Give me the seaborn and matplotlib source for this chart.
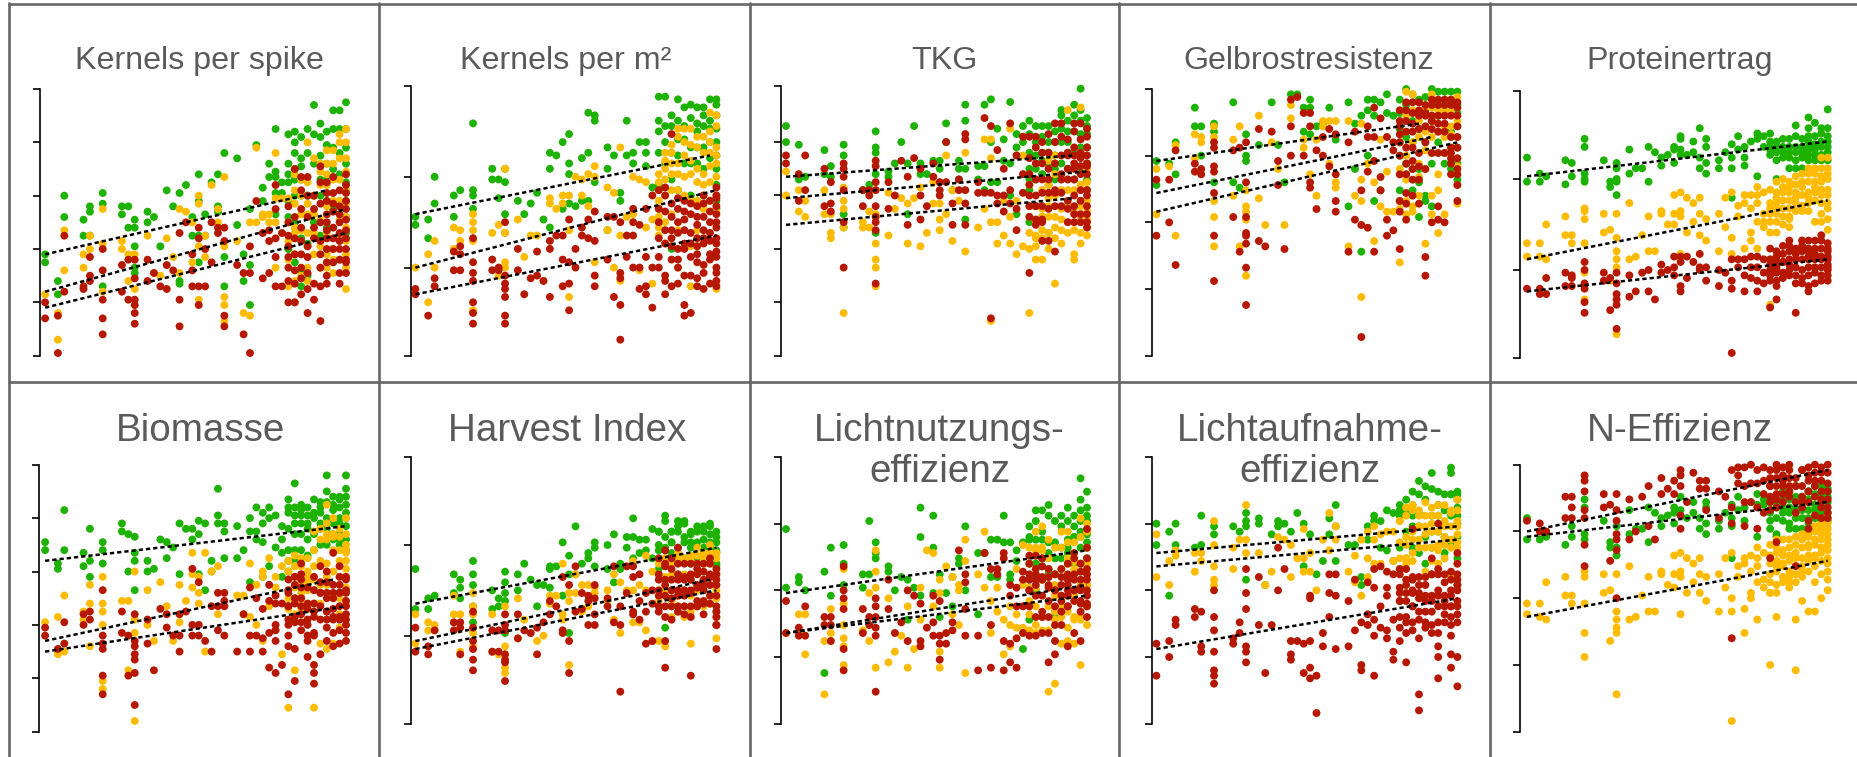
import pandas as pd
import matplotlib
matplotlib.use("Agg")
import matplotlib.pyplot as plt
from matplotlib.lines import Line2D
import seaborn as sns

# years that have varieties, one sublist per year in every series below
YEARS = [1968, 1970, 1971, 1974, 1975, 1977, 1980, 1981, 1982, 1984,
         1985, 1986, 1987, 1988, 1989, 1990, 1991, 1992, 1993, 1994,
         1995, 1996, 1998, 1999, 2000, 2001, 2002, 2003, 2004, 2005,
         2006, 2007, 2008, 2009, 2010, 2011, 2012, 2013, 2014, 2015]
# the *_LATE lists only hold the crowded last ten years
LATE_YEARS = [2006, 2007, 2008, 2009, 2010, 2011, 2012, 2013, 2014, 2015]

GROUP_COLORS = {"green": "#1DB100", "yellow": "#FFBB00", "red": "#B51700"}

# Kernels per spike
KPS_GREEN = [[38,35],[28,23],[60,52],[51,45],[56,54,45],[61,57,26],[56,53],[56,48],[51,48,41,33,31],[54,50],
 [52],[41],[62],[56],[61,28,27],[64],[52,45],[68,58,45,35],[53,45],[65],
 [68,56,54],[76,37,26],[74,49],[38,28],[55,34,19],[79],[63,58],[72,67],[85,69,67,61,53],[65,61],
 [83,68,65],[84,80,70,60],[82,74,71],[85],[94,83],[87,82],[84,79,72],[92,85],[92,85],[95,85,72,65,58,52]]
KPS_YELLOW = [[23],[16,6],[47,32],[38,33],[45,40],[55,42,24],[43,40],[38,28],[38,25],[45],
 [31],[30],[44],[37],[55,31],[54],[50,35],[60,57,41,21],[45,37],[64],
 [55,50],[67,41,22,19,13],[43],[16],[50,15],[78,50],[52,53],[53,50],[76,59,50,33],[59,46],
 [59,26],[68,57,48,20],[60,53],[80,57,53,46],[74,53],[69,51,33],[77,72,68,46],[77,66,36],[83,80,66,51],[85,80,69,52,43,25]]
KPS_RED = [[20,14],[15,1],[45,24],[26,25],[37,30,28],[40,32,21,14,8],[34,24],[36,21],[36,29,21,19,16,12],[36,28],
 [31],[26],[34,25],[32],[46,21,11],[50],[38,32,26],[48,44,26,19],[26,40],[50,35],
 [48,46],[48,43,15,11],[34],[31,8],[41,31,1],[58],[46,29],[47,43,31],[64,55,44,37,26],[46,26],
 [56,50,37,33,20],[70,38,32,20],[67,48,43,33,23],[67,41,25,16],[60,27,21],[71,57,43,26,13],[65,61,53,47,40,35,30],[61,54,48,40],[62,53,46,40,31],[68,61,55,47,40,36,31]]
KPS_GREEN_LATE = [[72,58,52,40],[76,66,50,35],[66,60,44,32,26],[76,60,42,30],[72,60,50],[75,66,60,45],[66,58,48],[78,70,55],[76,68,58],[78,62,46]]
KPS_YELLOW_LATE = [[50,43,36],[62,46,38,28],[66,47,30],[65,41,33,28],[60,46,38],[72,64,41],[64,56,38,33],[72,58,40,31],[74,58,45,36],[74,62,57,48,38,33]]
KPS_RED_LATE = [[45,41,28],[52,44,27],[62,55,38,29],[60,52,37,31],[55,48,44],[65,50,38,33],[58,50,44,27],[67,57,44,35],[56,50,43,36,27],[64,58,51,44,35]]
KPS_TRENDS = [(1968, 38, 2012, 62), (1968, 24, 2015, 55), (1968, 18, 2015, 46)]

# Kernels per m2
KPM_GREEN = [[52,49],[51,44],[67,57],[60,52],[62],[87,62,60,55],[70,66],[66,59],[70,65,53,46],[58],
 [53],[57],[61],[51],[76,70,48],[75],[80,55],[83,72,68,57],[56],[74,58],
 [91,76,58],[90,88,65],[78,70,47],[75],[61,58],[88,75],[76,72],[80],[80,76,71],[63],
 [97,88],[97,86],[90,40],[96,81],[93,81],[94,78],[93,87,78],[93,90,78],[96,88,80],[96,94,85,70,55]]
KPM_YELLOW = [[33],[38,20],[43,33],[48,40],[47,43],[53,50,47,43,17],[46],[49,30],[70,46,35,33],[51],
 [37],[45],[45],[28],[59,57],[55],[60,57],[60,47,22],[67],[66,60],
 [68,56],[71,67,35],[63,47],[61,33],[78,45,28],[52],[53,67],[32,66],[65,48],[27,51],
 [68,65,52,48,45],[73,70,50],[79,68,53],[85,68,33],[85,67],[85,68,41,26],[82,65,41],[82,64,55],[91,80,65],[90,75,25,67]]
KPM_RED = [[25,23],[15],[29,26],[39,32],[41,38,32],[44,35,31,28,20,16,12],[36,32],[33,32],[50,30,27,25,22,15,12],[40,32],
 [23],[29],[39,30],[28],[43,40,22],[45],[45,36,26],[51,35,27,17],[40,33],[48,45],
 [51,44],[54,43,30,26],[52,36],[52,22],[50,31,29,19,6],[45,37],[55,50,45,33],[49,33,25],[55,37,26,23],[60,33,18],
 [50,37,33],[63,47,28,23],[83,57,47,41,26],[59,50,36,33],[58,51,40,30,19,15],[57,46,30,16],[56,49,41,35,29],[57,47,42,34,31],[54,46,38,27],[63,59,56,48,42,37,33,28,26]]
KPM_GREEN_LATE = [[84,76,64],[80,72],[86,76,66],[88,75,62],[86,72],[89,72,60],[84,72],[86,70],[85,74],[90,80,75,64,58]]
KPM_YELLOW_LATE = [[62,58,55,50],[76,66,60,42],[76,72,62],[82,72,62,47],[80,75,60],[79,73,58],[78,70,58,47],[76,68,60],[84,76,71,58],[86,78,72,60,54]]
KPM_RED_LATE = [[62,55,44],[60,54,42,30],[52,44,36],[55,46,40,27],[54,47,42],[53,42,37],[52,44,38,26],[60,52,44,25],[58,50,43,36],[60,53,50,44,39,31]]
KPM_TRENDS = [(1968, 53, 2014, 75), (1968, 33, 2015, 62), (1968, 23, 2015, 45)]

# TKG
TKG_GREEN = [[86,80],[79,66],[67],[77,68],[71,67],[79,75,53,48],[62],[64,62],[84,78,76,68,46],[69,67],
 [72],[80],[72,53],[86],[72,68],[68],[73],[73,70],[87,80],[62],
 [73,70,66],[94,88,70,51],[71,66],[94,71,62],[96,80,65],[85,65],[81,73],[95,72,60],[83,78,53],[86,80],
 [88,83,76,50],[86,75],[86,73,52],[86,80,46],[80,75],[92,90,80],[88,80],[90,84],[100,88,83],[89,83,78,62]]
TKG_YELLOW = [[69,60],[62,54],[58,52],[62,53],[53,46,44],[63,58,55,48,16],[50,48],[48,54],[62,53,42,36,33,26],[61,45],
 [55],[59],[57,42],[59],[63,41],[46],[65,57],[57,51,47],[75,53],[43,62],
 [58],[76,39],[48],[81,55],[81,74,50,13],[50,42],[58,45],[85,52,42],[75,38,58],[75,41],
 [56,16],[45,41],[55,47],[73,59,52,40],[75,48,27],[51],[92,62,50],[47,38,36],[93,58,52,42],[65,58,51,48]]
TKG_RED = [[75,72],[68,58],[75,62],[70,56],[65,57,54],[72,70,67,62,50,33],[62,56],[62,60],[73,71,65,62,56,52,50,47,27],[65,55],
 [60],[73],[67,49],[74],[70,60,51],[56],[72,67],[65,62,60],[80,65],[57,49],
 [66,62],[83,81,62,57,49],[65,61],[89,61],[86,61,14],[77,60,57],[70,60,54],[87,62,57],[75,55,47],[82,68,61],
 [82,68,60,31],[78,72,60,56,51,49],[80,72,61,51,43],[83,70,61,43],[87,80,61,39],[87,82,68,61],[75,70,55],[87,78,75,70,60,53],[87,76,71,62,53],[85,78,75,71,60,56,53]]
TKG_GREEN_LATE = [[70,66,62],[80,70,66],[82,76,68],[76,72,64],[84,70,66],[85,72,66],[84,76,70],[94,76,66],[92,78,70],[86,72,66]]
TKG_YELLOW_LATE = [[64,52,46,40],[56,50,44,36],[62,52,44,36],[64,56,46],[68,60,52,44],[62,55,47,42],[66,56,46],[70,62,54],[76,64,56,46],[70,62,54,45]]
TKG_RED_LATE = [[74,64,56,52],[82,66,56],[76,66,56,50],[76,66,55],[72,62,56],[75,66,56],[81,76,66,58,50],[84,72,66,56,50],[81,74,68,58,50],[82,72,68,62,50,48]]
TKG_TRENDS = [(1968, 67, 2013, 75), (1968, 59, 2015, 69), (1968, 49, 2013, 59)]

# Gelbrostresistenz
GELB_GREEN = [[73,64],[72],[80,68],[93,86],[86,75],[87,84,65],[95,65],[63],[83,75,73],[79],
 [],[95],[79],[65],[98],[98],[93,84],[96,93,83],[86],[87],
 [93],[81],[95,56],[87,70],[90,39],[96,92,75],[96,90,58],[95,62],[98,91],[90],
 [96,91,80,62],[100,72],[98],[96,65],[97,58],[100,56],[99],[99,76],[99],[99,91,72]]
GELB_YELLOW = [[70,53],[71],[79,45],[83,74],[82,80],[86,82,52,41,58],[81,60],[86,41],[62,56,54,51,30],[90,59],
 [49],[80],[70],[49],[94,89],[],[81,78],[68],[81,60],[88,86],
 [88,72],[88,65,63],[88,41],[60],[87,66,58,22],[72],[65,43],[81,56],[69,54],[54],
 [68,58,35],[99,75,53],[98,54],[67,60],[77,42],[98,82,53],[68,46],[96,82,53],[96,83],[97,71,57]]
GELB_RED = [[66,45],[66,50],[77,34],[72,69],[70,68],[80,78,71,69,61,45,28],[77,52],[78,39],[80,65,52,46,45,42,33,19],[85,43],
 [41],[84],[73,64],[40],[96,86,75],[97],[91,75],[91,86,65,63],[77,55],[82,75],
 [85,71],[83,68,58,54],[80,39],[84,51],[62,49,7],[86,82,69,48],[93,82,39,73],[89,67,62],[82,51,45],[80,77,47],
 [92,88,83,54,40],[95,88,72,61,51],[95,87,73,66],[95,90,71,57],[91,90,37,30],[96,88,50],[96,87,56,51],[96,87,50],[96,82,76,72],[93,82,78,70,64,58]]
GELB_GREEN_LATE = [[85,75,58],[94,82,68],[88,80,62],[85,70,52],[92,80,60],[88,72],[90,80],[92,84,72],[92,84,70],[94,86,78,66]]
GELB_YELLOW_LATE = [[92,80,70,55],[90,84,66,58],[92,80,70,56],[88,82,72],[93,84,70],[93,88,76,60],[92,84,62],[92,86,76],[92,86,78],[93,88,82,74,64]]
GELB_RED_LATE = [[86,80,75,68,58],[92,84,78,68,57],[91,84,78,70,60],[92,85,76,66],[94,86,80,70],[94,90,85,76],[94,90,84,76],[94,90,84,76],[94,90,78,74,68],[95,90,86,74,68]]
GELB_TRENDS = [(1968, 73, 2009, 87), (1968, 61, 2011, 82), (1968, 54, 2015, 80)]

# Proteinertrag
PROT_GREEN = [[75,66],[69,66],[68],[74,65],[73,68],[82,79,69,67,66],[74],[66,64],[73,71,67,66,61],[78,69],
 [71],[71],[79,66],[77],[75,72],[76],[79,78,73],[83,82,78,76],[76],[81,77],
 [86,75,71],[82,79,73,69],[74,71],[77],[80,75,71,60],[83,78],[79,75,72],[81],[84,82,68],[83,79],
 [84,81,76],[81,67],[82,77],[82,77,71],[87,79,71],[79,77,71],[90,86,83,79,76],[88,83,78],[84,81,76],[93,86,83,79,74]]
PROT_YELLOW = [[43,38],[43,38],[50,37],[53,46],[46,43],[56,55,52,43,32,22],[54,47],[48,29],[54,45,40,37,34,9],[58,37],
 [38],[46],[53,40],[40],[55,54],[50],[61,54,50],[62,55,53,39],[60,47],[58,51],
 [60,54,46],[52,44],[54,40],[60,49],[62,45,39],[57,53],[61,58,41],[61,56,47,44],[64,61,58,51,41],[62,54,51,49],
 [58,54,51,47,20],[66,62,58,54,47],[64,59,53],[64,59,53,49],[65,60,55],[66,61,55,44],[69,66,62,58],[69,66,62,51],[71,68,63,58,54],[75,71,67,63,58,56,52,48]]
PROT_RED = [[26],[26,24],[30,24],[32,27],[31,30,27],[36,33,28,26,21,17],[32,29],[30,18],[32,28,24,22,20,11],[31,23],
 [25],[32],[33,25],[22],[35,32],[33],[38,34,31],[38,36,27,25],[38,30],[36],
 [39,34,33],[34,29],[33,27],[32],[37,29,26,2],[37,34],[37,31,25],[38,34,30],[38,34,29,25],[37,32,28],
 [35,31,19],[40,36,32,29,22],[39,36,32],[42,37,33],[41,37,28,17],[42,37,30,28],[41,37,34,27,25],[41,37,34,28],[44,41,37,34,31],[43,40,37,34,31,29]]
PROT_GREEN_LATE = [[79,78],[79,77,74],[79,75],[79,75],[83,77,74],[82,75],[81,78,74],[80,76,74],[86,79,74],[81,77]]
PROT_YELLOW_LATE = [[63,56],[60,56,51],[67,62,56,50],[66,62,56,52],[68,62,58],[69,64,57],[71,60,55],[71,64,59],[75,66,61,51],[69,61]]
PROT_RED_LATE = [[41,37,33,29],[38,34,33,27],[42,36,30],[44,40,35,31],[39,34,31],[44,40,33],[44,40,38,31],[44,39,32],[46,38,29],[41,38,35,33]]
PROT_TRENDS = [(1968, 68, 2015, 81), (1968, 37, 2015, 59), (1968, 25, 2015, 37)]

# Biomasse
BIOM_GREEN = [[71,68],[63,61],[83,68],[67,62],[76,64,58],[71,68,63],[78,75],[74,60],[73,67,64,53],[64,60],
 [61],[72],[71,65],[69],[78,59],[76],[76,72],[79,74,59],[78,53],[64,60],
 [91,81,78],[78,75,65],[77,65],[68],[80,75,56],[84,75,72],[82,78,71,58],[84,80,62],[81,69],[77,72,67,58],
 [87,82,68],[93,81,78,68],[85,81,78],[81,78,72],[87,80],[86,84,78],[96,90,80],[85,83,72],[87,84,78,72],[96,91,88,85,77,72]]
BIOM_YELLOW = [[41],[43,30,29],[51,30],[45,42],[55,48,32],[58,48,45,40,19,16],[49],[49,23],[60,42,37,4],[53,40],
 [34],[56],[47],[34],[55,41],[49],[67,59,54],[58,52,48],[67,30],[60],
 [62,44],[47],[51],[51,44],[63,43],[55,40],[60,58,34],[65,47],[58,54,38],[62,29],
 [64,9,53],[66,62,50,23],[65,52,48],[65,58,53],[75,57,9],[72,33],[85,74,58,31],[80,73,33],[73,68,62,39],[80,68,67,61,58]]
BIOM_RED = [[39,36],[31],[41,33],[44,40],[45,42],[53,36,33,31,21,14],[45,37],[36,21],[44,34,32,29,27,22,10],[42,33],
 [23],[46],[44,39],[36],[44,36,30],[45],[61,40,36],[56,40,36],[34],[47,30],
 [52,47,38],[52,49,47,36],[30],[44],[54,36,30],[50,36],[46,35,30],[55,49,37,24],[51,48,40,38,34,22],[48,25],
 [57,53,47,42,32,14],[55,48,41,31,19],[63,59,57,47,41],[48,40,34,28],[58,45,37,25,22,18],[62,52,29],[60,52,45,39,34],[67,52,43,32],[62,58,52,43,33],[57,53,49,42,37,34]]
BIOM_GREEN_LATE = [[84,76,64,60],[84,74,64],[83,74,68],[84,76,66],[82,74,68],[82,76,70],[86,76,70],[88,78,74],[88,80,74,70],[82,80,68]]
BIOM_YELLOW_LATE = [[60,50,46],[62,58,54,44],[62,56,50,46],[60,56,46],[68,62,53,48],[76,64,55,48],[78,72,63,55],[74,68,60,50],[76,64,58,50,44],[74,70,64,54,48]]
BIOM_RED_LATE = [[52,47,40,36],[58,50,43],[54,50,44,38],[54,46,42,36],[53,48,43,36],[56,52,47,42],[56,50,45,42],[55,50,46,42,37],[55,52,47,42,38],[58,52,47,44,40]]
BIOM_TRENDS = [(1968, 64, 2015, 77), (1968, 34, 2013, 57), (1968, 30, 2015, 47)]

# Harvest Index
HI_GREEN = [[58,43],[47,43],[48],[56,49],[54,51,47],[61,56,52,44,38],[50,43],[47,44],[57,53,49,46,34],[56,50],
 [60],[54],[52,44],[52],[59,58,51],[59],[68,48],[63,56,34],[74,56],[60],
 [64,62],[68,66,59],[67,58],[71,53],[60,58],[70,66],[77,70,62],[69,64],[69,65],[73,62],
 [72,67,65],[78,66,36],[72,68,64],[76,72],[75,68],[71,68],[72,68],[74,69],[75,71,66],[72,68,65,59,42]]
HI_YELLOW = [[41,30],[38,35],[37,35],[48,41,38],[41,27],[49,44,41,34,29],[41,27],[26],[44,29,26,21,19],[47,32],
 [39],[34],[31],[33],[48,45],[48],[60,41,39],[49,46,22],[56,49],[52,42],
 [52,44],[51,49],[50,46],[56,39],[53,34],[50],[61,50,38],[52,38],[63,50,35],[57,31],
 [56,31],[60,29],[56,44],[62,44],[61,40],[61,30],[63,44],[62,44],[67,55,45],[64,52,47,32]]
HI_RED = [[36,27],[29,26],[35],[38,35],[38,36,26],[42,36,31,28,24,20],[35,27],[35,27],[41,37,35,26,24,23,16],[41,32],
 [35],[34],[36,26],[38],[46,41],[44],[55,35,34],[52,31,19],[59,42],[49,43],
 [48,46,37],[52,47,41,37],[47,44],[59,38],[44,37,12],[59,49],[59,55,42,41],[56,46,39],[49,42,30],[50,45,31],
 [54,50,44],[65,59,52,40,31,21],[54,47,39],[66,56,50,44],[55,50,41],[56,49,40,18],[56,51,44],[57,52,45,41],[60,55,45],[56,54,42,37,37,28]]
HI_GREEN_LATE = [[72,62,58],[76,70,62],[72,68,60],[74,66],[76,70,62],[72,66,60],[74,66,62],[72,66,62],[74,68,62],[70,64,60]]
HI_YELLOW_LATE = [[60,50,46],[62,55,50],[60,50,46,40],[64,56,48,42],[62,56,50,44],[63,54,48,42],[66,60,50,44],[64,60,52,46],[64,60,52,48],[62,56,50,40]]
HI_RED_LATE = [[62,56,48,42],[60,54,48,44],[62,58,50,44],[60,54,48,42],[60,54,48,44],[60,54,50,44],[60,58,52,46],[60,54,50,46],[62,56,52,48],[58,52,48,44,40]]
HI_TRENDS = [(1968, 45, 2015, 66), (1968, 31, 2014, 54), (1968, 28, 2015, 50)]

# Lichtnutzungseffizienz
LUE_GREEN = [[73,51],[55,53],[50],[57,19],[66,48],[67,60,52],[56,51],[76,56],[68,64,62],[59,57],
 [50],[55],[54,39],[51],[81,70,48],[],[78,66,49],[56,40],[49],[55,44],
 [62,60],[74,50],[64,41],[64],[69,55],[69,55],[78,68],[68,56,54],[65,61],[68,28],
 [74,69,39],[80,69,60],[80,69,59],[82,68,56],[68,42,40],[74],[81,69,66],[74,70],[92,84,76,70],[87,81,78,71,68,66]]
LUE_YELLOW = [[34],[41,34],[41,26],[31,11],[43,34,31],[58,45,37,32,29,22],[35],[49,31],[65,57,51,21],[47,23],
 [27],[33],[44,21],[28],[51,39],[65],[64,44],[54,49,27,21],[59],[55,41],
 [52,50,37],[69,61,19],[56],[72,51],[46,34],[51,42],[39,26],[44,37,29],[58,41,36],[67,52,36],
 [66,51,35],[72,65,51,34],[74,65,35],[69,51,35,12],[52,39,15],[72,44,30],[72,60,31],[61,40,30],[77,60,39,22],[75,61,52,37]]
LUE_RED = [[46,34],[36,33],[44,33],[40,37],[40,37,31],[59,50,47,43,28,20],[43,34],[40,37],[47,44,40,36,33,12],[54,43],
 [34],[38],[50,31],[48],[45,31,29],[36],[48,38,33],[46,33,30,24],[34,30],[38,35],
 [65],[56,53,43,33],[33,20],[64],[58,37,21],[58,56],[64,62,31,20],[52,48,30,23],[51,44,32,21],[57,54,44,34],
 [63,54,50,33],[63,56,52,33],[59,55,42,34],[55,51,34,23],[50,37,31,26],[55,48,37],[56,52,50,44,29],[64,54,50,34],[57,51,45,31],[73,62,56,50,45,40]]
LUE_GREEN_LATE = [[70,60,54],[76,60,50],[72,62,54],[78,64,58],[76,62,56],[78,66,62],[76,64],[78,70,60],[80,72,66,60],[76,72,66,62]]
LUE_YELLOW_LATE = [[60,46,41],[66,56,44,37],[66,54,40],[62,55,44],[66,48,42],[66,58,48,40],[68,62,54,42,36],[68,58,48,39],[70,60,52,40],[72,66,60,52,44]]
LUE_RED_LATE = [[60,56,50,44],[58,54,48,40],[62,54,48,40],[58,52,46,40],[56,50,44],[58,52,46,42],[60,54,48,44],[62,56,50,46],[60,54,50,46,42],[66,58,54,48,44]]
LUE_TRENDS = [(1968, 49, 2015, 65), (1968, 34, 2015, 52), (1968, 34, 2015, 48)]

# Lichtaufnahmeeffizienz
LAE_GREEN = [[75,67],[72,48],[75,67],[66],[78,67],[74,71],[74],[72],[79,76,74,54],[77,75],
 [52],[71],[76,74],[75],[72],[79],[75,59],[71],[56],[61],
 [77,71],[82,74,61],[67],[67],[55,52],[69,74],[78,76],[76,66],[80,65],[79,61],
 [82,78],[79],[87,78,66],[91,79],[89,60],[94,78],[87,78],[80,75],[96,94,86],[87,86,81,75,52]]
LAE_YELLOW = [[71,55],[52,61],[65,63],[64,57],[64,61],[76,67,59,54,52],[66,58],[69],[82,69,64],[64],
 [52],[57],[70],[69],[55,67],[62],[73,62,57],[64,57],[50],[69],
 [79,65],[74,69],[57],[63,53],[69,48],[72,62,55],[74,69,60],[71,60],[72],[72,61],
 [76,62],[81,67,60],[82,69,61],[80,69],[83,71,57],[81,75,61],[82,67,65],[74,67],[79,69,55],[84,76,71,66]]
LAE_RED = [[30,18],[31,25],[39,37],[43,40],[42,29,27],[50,40,35,27,20,18,15],[32,30],[38,34],[58,49,43,29,27,23],[55,37],
 [19],[37],[66,50],[58],[31,26,24],[31],[30,19],[48,47,31,21,17],[18,4],[34,29],
 [56,49,40],[56,48,28],[46,29],[54,35],[38,22,20],[53,41,37],[58,51,39,33,18],[59,44,36],[57,51,48,35,32],[56,39,27,24],
 [56,49,46,36,31],[54,49,40,23],[73,55,49,44,35],[55,49,39,11,5],[55,48,38],[62,56,46,37],[75,56,50,34,29,25,17],[56,46,41],[57,50,44,37,33,26,21],[64,56,54,50,41,25,14]]
LAE_GREEN_LATE = [[80,66,58],[84,72,62],[82,74],[86,74,64],[84,70],[88,72,66],[82,72],[86,70,64],[86,78,68],[84,78,70,62]]
LAE_YELLOW_LATE = [[76,68,58],[78,70,62],[80,72,64],[78,74,66],[78,74,66],[78,72,66],[78,72,60],[82,76,70,62],[80,74,66],[80,74,68,60]]
LAE_RED_LATE = [[58,51,46,40],[58,52,46,38,34],[54,50,44,38],[52,47,42,32],[52,46,42,36],[56,48,42,34],[58,48,44,38],[53,48,44,38],[54,48,44,40],[60,52,46,44,38]]
LAE_TRENDS = [(1968, 64, 2015, 74), (1968, 59, 2015, 69), (1968, 28, 2015, 47)]

# N-Effizienz
NEFF_GREEN = [[80,72],[72],[73],[70],[77,73],[87,84,74,72],[79],[71,69],[77,69,66],[83,74],
 [76],[76],[84,71],[82],[80,77],[81],[84,82,78],[88,83],[80],[86,82],
 [80,76],[86,84,78,74],[79,76],[82],[85,80,77,65],[88,83],[84,79],[86],[89,85,73],[87,85],
 [86,82,79],[86,84,73],[87,82],[87,82,76],[92,83,76],[84,76],[90,87,83,80],[89,83],[89,84,79],[91,88,79]]
NEFF_YELLOW = [[48,44],[48,43],[56,42],[58,51],[51,48],[60,58,48,37,28],[59,52],[53,34],[59,45,42,39,37,14],[62,42],
 [43],[51],[58,45],[45],[60,59],[55],[66,59,54],[67,60,58,44],[65,52],[63,56],
 [65,59,52],[58,49],[59,45],[65,54],[67,50,45,4],[62,58],[65,63,46,37],[66,60,52,50],[69,65,62,56,42],[67,57,54],
 [63,59,52,25],[72,67,62,52,43],[68,63,58],[69,64,58,54],[70,65,59,42,23],[72,65,60,49],[73,69,64,45],[75,70,65,56,45],[76,72,67,59,50],[80,76,72,68,63,60,57,53]]
NEFF_RED = [[79],[78,75],[75],[88,80],[88,84,80],[96,94,90,83,80,70,62],[89,84],[85,64],[89,83,79,74,72,68,50],[87,72],
 [75],[88],[92,77],[72],[95,89],[91],[94,89],[98,96,92,81,76],[86],[97],
 [94,91],[94,91,83],[90,80],[88],[98,84,78,35],[99,96,93],[99,92,86,77],[100,93,86],[98,93,84,76],[99,94,89,82],
 [95,92,86,65],[100,95,89,84,71],[99,94,89],[100,95,90],[95,82,62],[98,86,84],[99,94,79,76],[100,94,81],[99,94,87,84],[100,93,87,84]]
NEFF_GREEN_LATE = [[88,83,76],[84,80,74],[90,84,79],[90,84,78],[88,80],[88,83,80],[90,86,78,74],[92,85,80,76],[92,86,82,76],[90,86,82]]
NEFF_YELLOW_LATE = [[70,66,56,52],[69,64,60,55],[72,66,62,56],[72,66,60,56],[73,67,62,56],[74,69,62,58],[75,70,66,60],[77,72,66,62],[78,74,69,64],[78,74,70,65]]
NEFF_RED_LATE = [[98,92,88,83],[98,92,87],[96,92,86],[98,92,88],[92,86],[98,92,88],[96,90,86],[97,92,88],[97,90,86,80],[97,90,82,80]]
NEFF_TRENDS = [(1968, 75, 2015, 98), (1968, 73, 2015, 86), (1968, 43, 2015, 64)]

TICKS_FIVE = [0, 20, 40, 60, 80, 100]
TICKS_FOUR = [0, 25, 50, 75, 100]
TICKS_THREE = [0, 33, 67, 100]

W, H = 1858, 757

# series, trends, y ticks, y top, spine x, first year x, last year x, axis top, axis bottom (pixels)
panels = [
    ((KPS_GREEN, KPS_YELLOW, KPS_RED), (KPS_GREEN_LATE, KPS_YELLOW_LATE, KPS_RED_LATE), KPS_TRENDS,
     TICKS_FIVE, 100, 39.7, 45.1, 346, 89, 355.7),
    ((KPM_GREEN, KPM_YELLOW, KPM_RED), (KPM_GREEN_LATE, KPM_YELLOW_LATE, KPM_RED_LATE), KPM_TRENDS,
     [0, 33, 67, 101], 101, 411, 415.4, 716.4, 86, 355.7),
    ((TKG_GREEN, TKG_YELLOW, TKG_RED), (TKG_GREEN_LATE, TKG_YELLOW_LATE, TKG_RED_LATE), TKG_TRENDS,
     [0, 20, 40, 60, 80, 101], 101, 780.7, 786, 1087, 86, 355.7),
    ((GELB_GREEN, GELB_YELLOW, GELB_RED), (GELB_GREEN_LATE, GELB_YELLOW_LATE, GELB_RED_LATE), GELB_TRENDS,
     TICKS_FOUR, 100, 1151.5, 1156.4, 1457.4, 89, 355.7),
    ((PROT_GREEN, PROT_YELLOW, PROT_RED), (PROT_GREEN_LATE, PROT_YELLOW_LATE, PROT_RED_LATE), PROT_TRENDS,
     TICKS_THREE, 100, 1520, 1527, 1827.7, 90.7, 358.3),
    ((BIOM_GREEN, BIOM_YELLOW, BIOM_RED), (BIOM_GREEN_LATE, BIOM_YELLOW_LATE, BIOM_RED_LATE), BIOM_TRENDS,
     TICKS_FIVE, 100, 39.3, 45.1, 346, 464.7, 731.7),
    ((HI_GREEN, HI_YELLOW, HI_RED), (HI_GREEN_LATE, HI_YELLOW_LATE, HI_RED_LATE), HI_TRENDS,
     TICKS_THREE, 100, 410.6, 415.4, 716.4, 457, 723.7),
    ((LUE_GREEN, LUE_YELLOW, LUE_RED), (LUE_GREEN_LATE, LUE_YELLOW_LATE, LUE_RED_LATE), LUE_TRENDS,
     TICKS_FOUR, 100, 780.7, 786, 1087, 457, 723.7),
    ((LAE_GREEN, LAE_YELLOW, LAE_RED), (LAE_GREEN_LATE, LAE_YELLOW_LATE, LAE_RED_LATE), LAE_TRENDS,
     TICKS_FOUR, 100, 1151.5, 1156.4, 1457.4, 457, 723.7),
    ((NEFF_GREEN, NEFF_YELLOW, NEFF_RED), (NEFF_GREEN_LATE, NEFF_YELLOW_LATE, NEFF_RED_LATE), NEFF_TRENDS,
     TICKS_FOUR, 100, 1520, 1527, 1827.7, 464.7, 731.7),
]

# title text, centre x, centre y, size
titles = [
    ("Kernels per spike", 199, 61, 23.2),
    ("Kernels per m²", 566, 61, 23.2),
    ("TKG", 944, 61, 23.2),
    ("Gelbrostresistenz", 1309, 61, 23.2),
    ("Proteinertrag", 1680, 61, 23.2),
    ("Biomasse", 201, 431, 27.8),
    ("Harvest Index", 567, 431, 27.8),
    ("Lichtnutzungs-", 939, 431, 27.8),
    ("effizienz", 940, 472, 27.8),
    ("Lichtaufnahme-", 1310, 431, 27.8),
    ("effizienz", 1310, 472, 27.8),
    ("N-Effizienz", 1680, 431, 27.8),
]


# turns the per-year sublists of one panel into a long table, drawn green, yellow, red
def long_table(series, late):
    rows = []
    for name, all_years, late_years in zip(GROUP_COLORS, series, late):
        for year, values in zip(YEARS, all_years, strict=True):
            rows += [(year, v, name) for v in values]
        for year, values in zip(LATE_YEARS, late_years, strict=True):
            rows += [(year, v, name) for v in values]
    return pd.DataFrame(rows, columns=["year", "value", "group"])


sns.set_style("ticks")
plt.rcParams["font.family"] = ["Liberation Sans", "DejaVu Sans"]

fig = plt.figure(figsize=(W / 100, H / 100), dpi=100, facecolor="white")

for series, late, trends, ticks, ytop, spine, x0, x47, top, bottom in panels:
    right = x47 + 6
    ax = fig.add_axes([spine / W, 1 - bottom / H, (right - spine) / W, (bottom - top) / H])
    ax.patch.set_alpha(0)
    per_year = (x47 - x0) / 47
    ax.set_xlim(1968 - (x0 - spine) / per_year, 2015 + 6 / per_year)
    ax.set_ylim(0, ytop)

    sns.scatterplot(data=long_table(series, late), x="year", y="value", hue="group",
                    palette=GROUP_COLORS, s=32, linewidth=0, legend=False, clip_on=False, ax=ax)
    for x_from, y_from, x_to, y_to in trends:
        sns.lineplot(x=[x_from, x_to], y=[y_from, y_to], color="black", lw=1.8,
                     linestyle=(0, (1.7, 1.2)), errorbar=None, ax=ax)

    ax.set_xticks([])
    ax.set_yticks(ticks)
    ax.set_yticklabels([])
    ax.set_xlabel("")
    ax.set_ylabel("")
    ax.tick_params(axis="y", length=5, width=1.2, color="black")
    ax.spines["left"].set_linewidth(1.2)
    ax.spines["left"].set_color("black")
    sns.despine(ax=ax, bottom=True)

for text, x, y, size in titles:
    fig.text(x / W, 1 - y / H, text, ha="center", va="center", fontsize=size, color="#5a5a5a")

# cell borders
for y in (4, 381.5):
    fig.add_artist(Line2D([9 / W, 1], [1 - y / H, 1 - y / H], color="#666666", lw=1.9))
for x in (9, 379, 749.5, 1119.5, 1490):
    fig.add_artist(Line2D([x / W, x / W], [0, 1 - 3.4 / H], color="#666666", lw=1.9))

fig.savefig("out.png", dpi=100)
